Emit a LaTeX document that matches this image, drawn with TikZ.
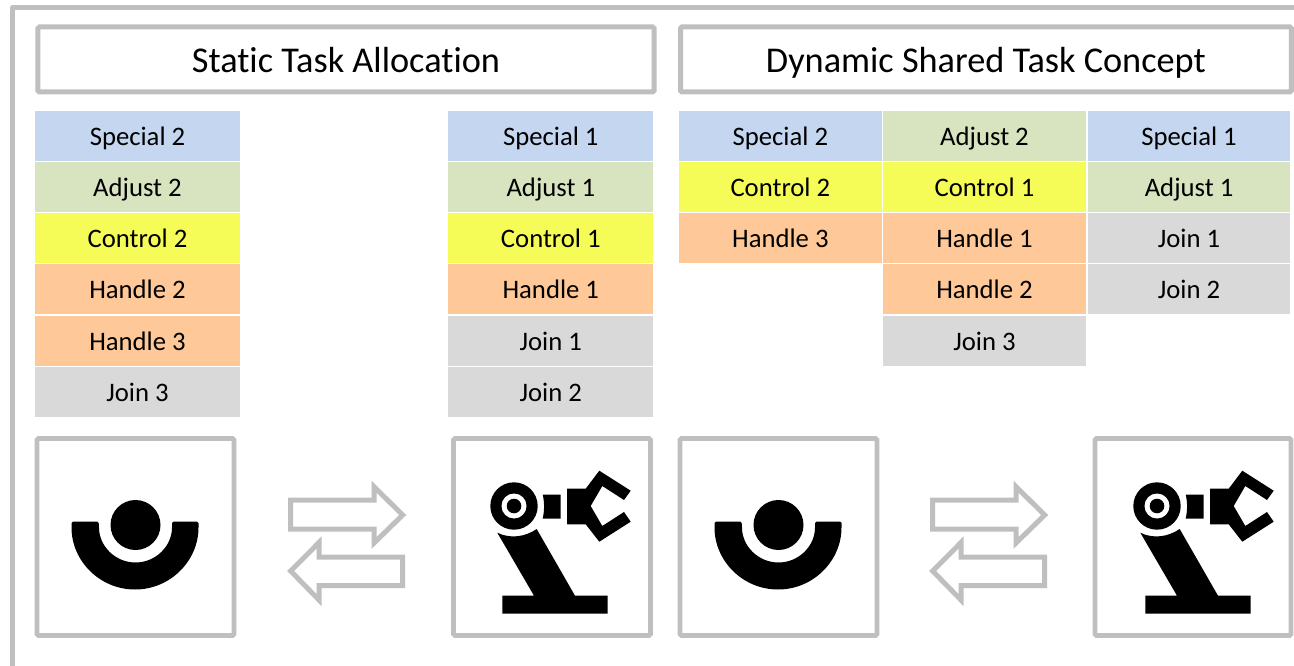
\documentclass[tikz,border=0pt]{standalone}
\usepackage{fontspec}
\setmainfont{Carlito}[Ligatures=NoCommon]
\definecolor{fr}{HTML}{BFBFBF}
\definecolor{cblue}{HTML}{C5D7F0}
\definecolor{cgreen}{HTML}{D8E3BF}
\definecolor{cyellow}{HTML}{F5FB57}
\definecolor{corange}{HTML}{FEC898}
\definecolor{cgrey}{HTML}{D9D9D9}
\tikzset{
 cell/.style={anchor=north west,minimum width=#1,minimum height=50pt,inner sep=0pt,outer sep=0pt,text height=20pt,text depth=0.8pt,font=\fontsize{26.7}{30}\selectfont,text=black},
 cell/.default=205pt,
 titlebox/.style={draw=fr,line width=5pt,rounded corners=1.5pt,fill=white,inner sep=0pt,outer sep=0pt,anchor=north west,minimum height=65pt,text height=28pt,text depth=1.4pt,font=\fontsize{36.3}{42}\selectfont},
 iconbox/.style={draw=fr,line width=4.7pt,rounded corners=1.5pt,fill=white,anchor=north west,minimum width=197pt,minimum height=197pt,inner sep=0pt,outer sep=0pt},
 flow/.style={draw=fr,line width=5pt,fill=white,miter limit=10}
}
\newcommand{\humanicon}[1]{%
 \begin{scope}[shift={(#1,0)}]
 \fill[black] (135.5,525) circle[radius=25];
 \fill[black,rounded corners=1.5pt] (71.5,521.5) -- (71.5,526) arc[start angle=180,end angle=0,radius=63.5] -- (198.5,521.5) -- (172,521.5) -- (172,526) arc[start angle=0,end angle=180,radius=36.5] -- (98.5,521.5) -- cycle;
 \end{scope}}
\newcommand{\roboticon}[1]{%
 \begin{scope}[shift={(#1,0)}]
 \fill[black] (514,506) circle[radius=23.7];
 \fill[white] (514,506) circle[radius=12.5];
 \fill[black] (514,506) circle[radius=7.3];
 \fill[black] (542.7,494.5) -- (560.7,494.5) -- (560.7,518.5) -- (542.7,518.5) .. controls (544.5,511) and (544.5,502) .. (542.7,494.5) -- cycle;
 \fill[black] (567,488.7) -- (585.7,488.7) -- (599.3,470.7) -- (630.7,490.7) -- (624,500) -- (602.3,486) -- (590.7,506) -- (602.3,526) -- (624,512) -- (630.7,521.7) -- (599.3,541.7) -- (585.7,524.3) -- (567,524.3) -- cycle;
 \fill[black] (497.3,532.7) .. controls (510,539) and (525,537) .. (536.7,529) -- (575,595.7) -- (607.7,595.7) -- (607.7,613.7) -- (502.3,613.7) -- (502.3,595.7) -- (534,595.7) -- cycle;
 \end{scope}}
\begin{document}
\begin{tikzpicture}[x=1pt,y=-1pt]
\useasboundingbox (0,0) rectangle (1294,666);
\fill[white] (0,0) rectangle (1294,666);
\draw[fr,line width=5pt,line join=round] (12.7,667) -- (12.7,7.3) -- (1295,7.3);
% titles
\node[titlebox,minimum width=616.4pt] (t1) at (37.8,27) {Static Task Allocation};
\node[titlebox,minimum width=610.8pt] (t2) at (680.5,27) {Dynamic Shared Task Concept};
% column 1
\node[cell,fill=cblue] (a1) at (35,110.7) {Special 2};
\node[cell,fill=cgreen] (a2) at (35,161.9) {Adjust 2};
\node[cell,fill=cyellow] (a3) at (35,213.1) {Control 2};
\node[cell,fill=corange] (a4) at (35,264.3) {Handle 2};
\node[cell,fill=corange] (a5) at (35,315.5) {Handle 3};
\node[cell,fill=cgrey] (a6) at (35,366.7) {Join 3};
% column 2
\node[cell,fill=cblue] (b1) at (448.3,110.7) {Special 1};
\node[cell,fill=cgreen] (b2) at (448.3,161.9) {Adjust 1};
\node[cell,fill=cyellow] (b3) at (448.3,213.1) {Control 1};
\node[cell,fill=corange] (b4) at (448.3,264.3) {Handle 1};
\node[cell,fill=cgrey] (b5) at (448.3,315.5) {Join 1};
\node[cell,fill=cgrey] (b6) at (448.3,366.7) {Join 2};
% column 3
\node[cell=202.7pt,fill=cblue] (c1) at (679,110.7) {Special 2};
\node[cell=202.7pt,fill=cyellow] (c2) at (679,161.9) {Control 2};
\node[cell=202.7pt,fill=corange] (c3) at (679,213.1) {Handle 3};
% column 4
\node[cell=203pt,fill=cgreen] (d1) at (883,110.7) {Adjust 2};
\node[cell=203pt,fill=cyellow] (d2) at (883,161.9) {Control 1};
\node[cell=203pt,fill=corange] (d3) at (883,213.1) {Handle 1};
\node[cell=203pt,fill=corange] (d4) at (883,264.3) {Handle 2};
\node[cell=203pt,fill=cgrey] (d5) at (883,315.5) {Join 3};
% column 5
\node[cell=202.7pt,fill=cblue] (e1) at (1087.7,110.7) {Special 1};
\node[cell=202.7pt,fill=cgreen] (e2) at (1087.7,161.9) {Adjust 1};
\node[cell=202.7pt,fill=cgrey] (e3) at (1087.7,213.1) {Join 1};
\node[cell=202.7pt,fill=cgrey] (e4) at (1087.7,264.3) {Join 2};
% icon frames
\node[iconbox] (i1) at (37,438.5) {};
\node[iconbox] (i2) at (453.5,438.5) {};
\node[iconbox] (i3) at (680,438.5) {};
\node[iconbox,minimum width=196pt] (i4) at (1095,438.5) {};
\humanicon{0}
\humanicon{643}
\roboticon{0}
\roboticon{643}
% arrows
\foreach \dx in {0,642}{
 \draw[flow] (290.7+\dx,500) -- (374+\dx,500) -- (374+\dx,486.7) -- (402.7+\dx,515) -- (374+\dx,543) -- (374+\dx,529) -- (290.7+\dx,529) -- cycle;
 \draw[flow] (402.7+\dx,557) -- (319+\dx,557) -- (319+\dx,542.5) -- (290.7+\dx,571) -- (319+\dx,600) -- (319+\dx,585.7) -- (402.7+\dx,585.7) -- cycle;
}
\end{tikzpicture}
\end{document}
